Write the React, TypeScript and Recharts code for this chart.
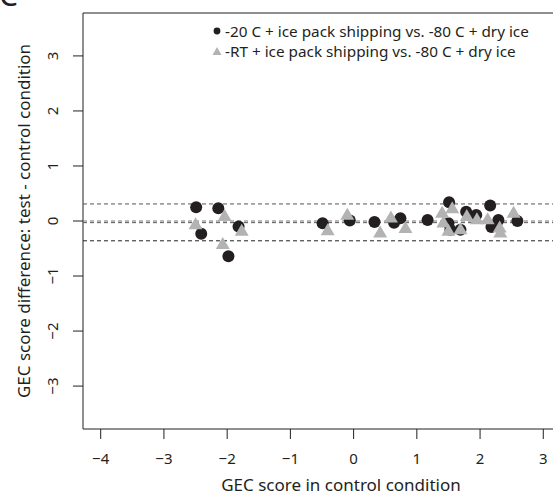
import React from 'react'
import {
  ScatterChart,
  Scatter,
  XAxis,
  YAxis,
  ReferenceLine,
  ReferenceArea,
  Label,
} from 'recharts'

// -20 C + ice pack vs -80 C + dry ice (black circles)
const freezerX = [-2.49, -2.14, -2.41, -1.82, -1.98, -0.49, -0.06, 0.33, 0.64, 0.74, 1.17, 1.51, 1.5, 1.53, 1.69, 1.78, 1.94, 2.16, 2.18, 2.29, 2.59]
const freezerY = [0.25, 0.23, -0.23, -0.1, -0.64, -0.04, 0.01, -0.02, -0.03, 0.05, 0.02, 0.34, -0.04, -0.16, -0.16, 0.17, 0.11, 0.28, -0.11, 0.02, 0.0]

// RT + ice pack vs -80 C + dry ice (grey triangles)
const roomX = [-2.5, -2.04, -1.77, -2.07, -0.41, -0.1, 0.42, 0.59, 0.82, 1.4, 1.56, 1.42, 1.5, 1.69, 1.79, 1.95, 2.12, 2.31, 2.32, 2.53]
const roomY = [-0.04, 0.11, -0.16, -0.4, -0.15, 0.13, -0.19, 0.08, -0.11, 0.17, 0.25, -0.01, -0.16, -0.13, 0.11, 0.05, 0.05, -0.1, -0.19, 0.17]

const xTicks = [-4, -3, -2, -1, 0, 1, 2, 3]
const yTicks = [-3, -2, -1, 0, 1, 2, 3]
const xDomain = [-4.28, 3.28]
const yDomain = [-3.78, 3.78]

// mean lines and limits of agreement
const limitLines = [
  { y: 0.31, color: '#555' },
  { y: 0.0, color: '#777' },
  { y: -0.03, color: '#555' },
  { y: -0.36, color: '#222' },
]

const legendLabels = [
  '-20 C + ice pack shipping vs. -80 C + dry ice',
  '-RT + ice pack shipping vs. -80 C + dry ice',
]

const freezerData = freezerX.map((x, i) => ({ x, y: freezerY[i] }))
const roomData = roomX.map((x, i) => ({ x, y: roomY[i] }))

const FONT = '"Noto Sans", "Open Sans", sans-serif'
const DARK = '#231f20'
const GREY = '#b3b3b3'

const CircleShape = (props: any) => (
  <circle cx={props.cx} cy={props.cy} r={6} fill={DARK} />
)

const TriangleShape = (props: any) => {
  const { cx, cy } = props
  const h = 12
  const w = 14
  return (
    <polygon
      points={`${cx - w / 2},${cy + h / 2} ${cx + w / 2},${cy + h / 2} ${cx},${cy - h / 2}`}
      fill={GREY}
    />
  )
}

const XTick = (props: any) => {
  const { x, y, payload } = props
  return (
    <text x={x} y={y + 25} textAnchor="middle" fontSize={15} fontFamily={FONT} fill="#231f20">
      {String(payload.value).replace('-', '\u2212')}
    </text>
  )
}

const YTick = (props: any) => {
  const { x, y, payload } = props
  const bx = x - 15
  return (
    <text
      x={bx}
      y={y}
      transform={`rotate(-90 ${bx} ${y})`}
      textAnchor="middle"
      fontSize={15}
      fontFamily={FONT}
      fill="#231f20"
    >
      {String(payload.value).replace('-', '\u2212')}
    </text>
  )
}

const LegendBox = () => (
  <div
    style={{
      position: 'absolute',
      left: 212,
      top: 21,
      fontFamily: FONT,
      fontSize: 15.3,
      color: '#231f20',
      lineHeight: '20px',
    }}
  >
    {legendLabels.map((label, i) => (
      <div key={label} style={{ display: 'flex', alignItems: 'center' }}>
        <svg width={10} height={10} style={{ marginRight: 3 }}>
          {i === 0 ? (
            <circle cx={5} cy={5} r={3.4} fill={DARK} />
          ) : (
            <polygon points="0.5,9 9.5,9 5,1" fill={GREY} />
          )}
        </svg>
        <span>{label}</span>
      </div>
    ))}
  </div>
)

export default function App() {
  return (
    <div style={{ position: 'absolute', left: 0, top: 0, width: 553, height: 497, background: '#fff', overflow: 'hidden' }}>
      <div
        style={{
          position: 'absolute',
          left: -1,
          top: -20,
          fontFamily: FONT,
          fontSize: 30,
          color: '#231f20',
          lineHeight: '30px',
        }}
      >
        C
      </div>
      <ScatterChart width={575} height={497} margin={{ top: 13, right: 14, bottom: 0, left: 0 }}>
        <XAxis
          type="number"
          dataKey="x"
          domain={xDomain}
          ticks={xTicks}
          allowDataOverflow
          axisLine={false}
          tickLine={{ stroke: '#231f20' }}
          tickSize={10}
          tickMargin={0}
          height={68}
          tick={<XTick />}
          interval={0}
        >
          <Label
            content={() => (
              <text x={341} y={491} textAnchor="middle" fontSize={17} fontFamily={FONT} fill="#231f20">
                GEC score in control condition
              </text>
            )}
          />
        </XAxis>
        <YAxis
          type="number"
          dataKey="y"
          domain={yDomain}
          ticks={yTicks}
          allowDataOverflow
          axisLine={false}
          tickLine={{ stroke: '#231f20' }}
          tickSize={10}
          tickMargin={0}
          width={83}
          tick={<YTick />}
          interval={0}
        >
          <Label
            content={() => (
              <text
                x={30}
                y={221}
                transform="rotate(-90 30 221)"
                textAnchor="middle"
                fontSize={17}
                fontFamily={FONT}
                fill="#231f20"
              >
                GEC score difference: test - control condition
              </text>
            )}
          />
        </YAxis>
        <ReferenceArea
          x1={xDomain[0]}
          x2={xDomain[1]}
          y1={yDomain[0]}
          y2={yDomain[1]}
          fill="none"
          fillOpacity={0}
          stroke="#231f20"
          strokeWidth={1}
          ifOverflow="visible"
        />
        {limitLines.map((l) => (
          <ReferenceLine key={l.y} y={l.y} stroke={l.color} strokeDasharray="4 3" strokeWidth={1} />
        ))}
        <Scatter data={freezerData} shape={<CircleShape />} isAnimationActive={false} />
        <Scatter data={roomData} shape={<TriangleShape />} isAnimationActive={false} />
      </ScatterChart>
      <LegendBox />
    </div>
  )
}
